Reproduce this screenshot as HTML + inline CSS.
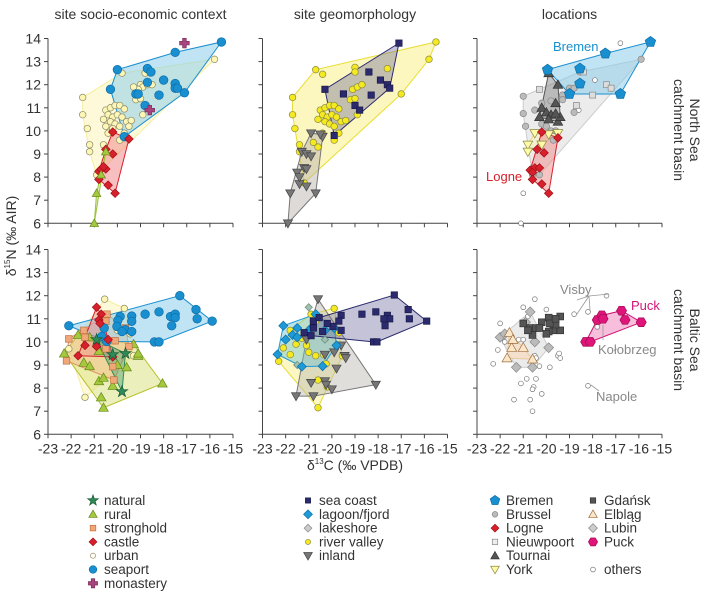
<!DOCTYPE html>
<html><head><meta charset="utf-8"><style>
body{margin:0;background:#fff;}
svg{display:block;font-family:"Liberation Sans",sans-serif;}
</style></head><body>
<svg id="c" width="710" height="599" viewBox="0 0 710 599"></svg>
<script>
// ---- data (δ13C, δ15N) ----
const xTicks=[-23,-22,-21,-20,-19,-18,-17,-16,-15];
const yTicks=[6,7,8,9,10,11,12,13,14];
const colTitles=["site socio-economic context","site geomorphology","locations"];
// panel 1 top
const t1Seaport=[[-15.5,13.85],[-17.5,13.4],[-20.0,12.65],[-18.7,12.7],[-18.55,12.55],[-20.3,11.8],[-18.7,12.1],[-18.0,12.2],[-19.2,11.6],[-19.1,11.6],[-18.2,11.55],[-17.5,12.05],[-17.5,11.85],[-17.4,11.85],[-17.1,11.65],[-18.8,11.1],[-19.7,9.75]];
const t1Monastery=[[-17.1,13.8],[-18.6,10.9]];
const t1Castle=[[-20.2,9.95],[-19.5,9.65],[-20.5,9.2],[-20.2,9.0],[-20.8,8.25],[-20.7,8.35],[-20.5,8.35],[-20.8,7.9],[-20.4,7.65],[-20.1,7.3],[-20.6,8.45]];
const t1Rural=[[-21.0,6.0],[-20.9,7.3],[-20.5,9.1],[-20.7,8.1]];
const t1Urban=[[-21.5,11.45],[-21.5,10.7],[-21.3,10.1],[-21.2,9.4],[-21.2,9.1],[-15.8,13.1],[-19.8,12.5],[-20.5,10.9],[-20.3,11.0],[-20.1,11.1],[-19.9,11.1],[-19.7,10.95],[-20.4,10.7],[-20.2,10.6],[-20.0,10.7],[-19.8,10.6],[-20.3,10.4],[-20.1,10.3],[-19.9,10.2],[-20.2,10.1],[-19.6,10.4],[-19.4,10.45],[-19.5,10.2],[-20.6,10.5],[-20.4,9.9],[-19.9,9.6],[-19.7,9.9],[-20.6,9.4],[-19.0,12.0],[-18.9,11.9],[-18.7,12.0],[-18.5,12.0],[-19.1,11.8],[-19.3,11.9],[-19.2,11.35],[-19.0,11.4],[-18.9,10.7],[-18.8,12.5],[-20.5,10.2],[-20.9,8.1]];
// panel 2 top
const t2SeaCoast=[[-17.1,13.8],[-20.3,11.8],[-18.4,12.55],[-17.9,12.2],[-17.6,12.0],[-17.5,11.85],[-18.3,11.55],[-19.5,11.6],[-19.0,11.1],[-18.8,10.9],[-19.9,9.8]];
const t2River=[[-15.5,13.85],[-15.8,13.1],[-17.0,11.6],[-17.6,12.7],[-20.7,12.65],[-20.4,12.45],[-21.7,11.45],[-21.7,10.7],[-21.6,10.1],[-21.4,9.4],[-21.4,9.1],[-21.2,7.75],[-19.0,12.75],[-19.0,12.55],[-20.5,10.9],[-20.3,11.0],[-20.1,11.1],[-19.9,11.1],[-19.7,10.95],[-20.4,10.7],[-20.2,10.6],[-20.0,10.7],[-19.8,10.6],[-20.3,10.4],[-20.1,10.3],[-19.9,10.2],[-19.6,10.4],[-19.4,10.45],[-20.6,10.5],[-20.4,9.9],[-19.9,9.6],[-19.7,9.9],[-19.1,11.8],[-18.9,11.9],[-18.7,12.0],[-19.2,11.35],[-19.0,11.4],[-18.9,10.7],[-20.8,9.5],[-20.6,9.3]];
const t2Inland=[[-21.9,6.0],[-21.8,7.3],[-20.7,7.3],[-21.1,7.6],[-21.4,7.7],[-21.5,8.2],[-21.2,8.4],[-21.1,8.35],[-21.3,9.1],[-21.1,9.0],[-20.9,8.9],[-20.9,9.9],[-20.4,9.75],[-20.5,9.85],[-21.4,8.0]];
// panel 3 top
const t3Bremen=[[-15.5,13.85],[-17.45,13.35],[-19.95,12.65],[-18.55,12.7],[-18.55,12.05],[-19.0,11.6],[-16.8,11.6]];
const t3Tournai=[[-19.9,12.5],[-19.5,12.0],[-20.2,11.0],[-19.6,11.2],[-20.3,10.6],[-19.5,10.4],[-19.4,10.6],[-20.0,10.8],[-19.8,10.7],[-19.6,10.75],[-19.9,10.5]];
const t3Logne=[[-20.2,9.95],[-19.5,9.7],[-20.4,9.2],[-20.1,9.05],[-20.7,8.3],[-20.5,8.4],[-20.3,8.4],[-20.6,8.2],[-20.6,7.9],[-20.2,7.7],[-19.9,7.3]];
const t3York=[[-20.8,9.4],[-20.8,9.1],[-20.5,9.9],[-20.2,9.4],[-19.9,9.85],[-19.5,9.9]];
const t3Brussel=[[-21.0,11.5],[-21.0,10.75],[-20.9,10.2],[-15.9,13.1],[-18.55,12.55],[-19.3,11.55],[-19.0,11.85],[-18.8,11.85],[-18.8,10.8],[-19.3,11.35],[-20.2,10.3],[-20.0,10.2],[-19.8,10.0],[-19.6,10.0],[-19.7,9.6],[-20.3,8.1],[-20.6,8.1],[-20.5,10.9],[-20.2,11.2],[-19.8,11.3]];
const t3Nieuwpoort=[[-20.3,11.8],[-18.4,12.55],[-17.4,12.0],[-17.2,11.85],[-18.0,11.55],[-18.7,11.1]];
const t3Others=[[-21.1,6.0],[-21.0,7.3],[-16.8,13.8],[-17.9,12.2],[-18.6,10.9]];
// bottom panel 1
const b1Seaport=[[-22.1,10.7],[-17.3,12.0],[-15.9,10.9],[-16.6,11.4],[-16.55,11.0],[-18.2,11.3],[-18.8,11.2],[-17.7,11.1],[-17.5,11.2],[-17.5,11.05],[-17.65,10.7],[-18.4,10.0],[-18.2,10.0],[-19.38,11.12],[-19.88,11.1],[-19.98,10.93],[-20.02,10.67],[-19.66,10.53],[-19.38,10.89],[-19.8,10.45],[-19.38,10.45],[-20.57,10.6],[-20.67,10.24],[-20.46,10.02]];
const b1Castle=[[-20.9,11.5],[-20.7,11.2],[-20.8,10.95],[-20.75,10.8],[-21.4,9.85],[-20.9,9.8],[-21.7,9.4],[-20.2,9.35],[-20.4,10.1]];
const b1Stronghold=[[-22.1,10.13],[-22.2,9.18],[-21.45,10.5],[-21.4,10.2],[-20.45,11.2],[-20.5,10.9],[-20.1,10.05],[-20.5,9.7],[-20.2,8.93],[-20.15,8.35],[-19.5,9.8],[-19.65,10.6]];
const b1Rural=[[-22.3,9.5],[-21.7,10.3],[-21.45,9.1],[-21.2,8.95],[-20.8,8.3],[-20.6,8.45],[-20.7,7.6],[-20.6,7.15],[-20.2,8.1],[-20.0,9.0],[-19.6,8.9],[-19.3,9.9],[-19.1,9.4],[-19.1,9.5],[-18.05,8.2],[-20.8,9.6],[-21.2,10.2]];
const b1Natural=[[-20.9,10.1],[-20.2,9.45],[-19.65,9.5],[-19.8,7.85]];
const b1Urban=[[-20.55,11.85],[-19.7,11.45],[-21.4,7.6],[-22.1,9.7],[-20.0,10.5],[-19.45,10.35],[-19.3,9.4]];
// bottom panel 2
const b2SeaCoast=[[-17.3,12.03],[-16.7,11.4],[-16.65,11.0],[-15.9,10.9],[-17.7,10.7],[-18.1,11.3],[-18.7,11.2],[-17.6,11.15],[-17.5,11.0],[-17.75,11.0],[-18.2,10.0],[-18.05,10.0],[-20.8,10.9],[-20.55,11.05],[-19.6,11.15],[-19.7,10.9],[-19.95,10.67],[-20.8,10.6],[-20.9,10.27],[-21.2,10.4],[-19.6,10.5],[-20.2,10.8],[-20.4,10.45]];
const b2Lagoon=[[-22.1,10.7],[-22.35,9.46],[-22.0,10.1],[-21.7,10.3],[-21.5,10.6],[-21.5,10.2],[-21.0,10.5],[-20.7,11.2],[-21.3,8.93],[-20.4,8.95],[-19.8,9.85],[-20.3,10.5],[-19.9,10.6]];
const b2Lakeshore=[[-21.0,11.5],[-21.5,9.0],[-20.3,10.1]];
const b2River=[[-22.3,9.16],[-22.1,9.74],[-21.8,9.45],[-21.55,9.9],[-19.9,11.45],[-20.7,10.9],[-20.9,11.2],[-21.8,10.5],[-21.3,10.15],[-21.1,9.85],[-21.0,9.55],[-20.7,9.4],[-20.35,9.45],[-20.25,9.05],[-20.6,8.35],[-20.2,8.05],[-20.6,7.15],[-19.7,10.4],[-19.55,9.4],[-20.8,10.9]];
const b2Inland=[[-20.6,11.85],[-21.1,10.1],[-19.6,9.85],[-19.45,9.4],[-19.4,9.3],[-19.9,9.55],[-20.3,9.45],[-19.8,8.85],[-20.9,8.23],[-20.3,8.3],[-20.25,8.15],[-20.0,7.95],[-18.1,8.15],[-21.55,7.65],[-20.8,7.65]];
// bottom panel 3
const b3Puck=[[-18.3,10.0],[-18.1,10.0],[-17.8,10.95],[-17.6,11.15],[-17.55,11.0],[-16.75,11.35],[-16.6,10.95],[-15.9,10.85]];
const b3Gdansk=[[-21.0,10.8],[-20.7,10.6],[-20.45,10.6],[-20.2,10.85],[-19.9,11.05],[-19.4,11.1],[-19.4,10.5],[-19.7,10.5],[-19.6,10.75],[-19.9,10.45],[-20.6,10.3],[-20.8,10.5],[-20.3,10.6],[-19.85,10.8],[-20.0,10.35],[-19.6,11.0]];
const b3Elblag=[[-21.6,10.4],[-21.5,9.75],[-21.0,9.75],[-21.7,9.3],[-20.6,9.25],[-21.45,10.1]];
const b3Lubin=[[-20.7,11.3],[-22.0,10.2],[-21.8,10.35],[-21.3,8.9],[-20.6,8.9],[-19.9,9.75],[-20.5,10.0],[-20.9,10.85]];
const b3Others=[[-22.3,9.05],[-22.1,9.65],[-22.0,10.8],[-21.0,11.5],[-20.5,11.85],[-20.8,11.1],[-20.0,11.4],[-21.8,10.0],[-21.2,10.1],[-21.0,10.1],[-20.5,9.4],[-20.45,9.3],[-20.3,8.95],[-19.85,8.9],[-19.5,9.4],[-19.4,9.3],[-19.45,9.5],[-21.1,8.2],[-20.85,8.4],[-20.45,8.4],[-20.55,8.05],[-20.6,7.95],[-20.2,7.75],[-21.4,7.5],[-20.7,7.5],[-20.6,7.0],[-18.8,11.2],[-18.2,11.3],[-17.4,12.0],[-18.2,8.1],[-17.8,10.65]];

// ---- layout ----
const S="http://www.w3.org/2000/svg";
const svg=document.getElementById('c');
const panelX0=[48,262.5,477],plotW=185;
const rowY14=[38.5,249.5],unit=23.1;
function el(tag,attrs,parent){const e=document.createElementNS(S,tag);for(const k in attrs)e.setAttribute(k,attrs[k]);(parent||svg).appendChild(e);return e;}
function sx(p,v){return panelX0[p]+(v+23)/8*plotW;}
function sy(r,v){return rowY14[r]+(14-v)*unit;}

function marker(g,type,x,y,s,fill,stroke){
  let e;
  if(type==='circle'){e=el('circle',{cx:x,cy:y,r:s,fill:fill,stroke:stroke,'stroke-width':0.7},g);}
  else if(type==='square'){e=el('rect',{x:x-s,y:y-s,width:2*s,height:2*s,fill:fill,stroke:stroke,'stroke-width':0.7},g);}
  else{
    let pts=[];
    if(type==='diamond')pts=[[0,-1.3],[1.3,0],[0,1.3],[-1.3,0]];
    else if(type==='tri')pts=[[0,-1.2],[1.2,0.9],[-1.2,0.9]];
    else if(type==='dtri')pts=[[0,1.2],[1.2,-0.9],[-1.2,-0.9]];
    else if(type==='pent'){for(let i=0;i<5;i++){const a=-Math.PI/2+i*2*Math.PI/5;pts.push([1.2*Math.cos(a),1.2*Math.sin(a)]);}}
    else if(type==='hex'){for(let i=0;i<6;i++){const a=i*Math.PI/3;pts.push([1.15*Math.cos(a),1.15*Math.sin(a)]);}}
    else if(type==='star'){for(let i=0;i<10;i++){const a=-Math.PI/2+i*Math.PI/5,r=i%2?0.55:1.4;pts.push([r*Math.cos(a),r*Math.sin(a)]);}}
    else if(type==='plus'){const a=0.45,b=1.2;pts=[[-a,-b],[a,-b],[a,-a],[b,-a],[b,a],[a,a],[a,b],[-a,b],[-a,a],[-b,a],[-b,-a],[-a,-a]];}
    e=el('polygon',{points:pts.map(p=>(x+p[0]*s)+','+(y+p[1]*s)).join(' '),fill:fill,stroke:stroke,'stroke-width':0.7},g);
  }
  return e;
}
function hull(pts){
  const P=pts.slice().sort((a,b)=>a[0]-b[0]||a[1]-b[1]);if(P.length<3)return P;
  const cr=(o,a,b)=>(a[0]-o[0])*(b[1]-o[1])-(a[1]-o[1])*(b[0]-o[0]);
  const lo=[],up=[];
  for(const p of P){while(lo.length>=2&&cr(lo[lo.length-2],lo[lo.length-1],p)<=0)lo.pop();lo.push(p);}
  for(let i=P.length-1;i>=0;i--){const p=P[i];while(up.length>=2&&cr(up[up.length-2],up[up.length-1],p)<=0)up.pop();up.push(p);}
  lo.pop();up.pop();return lo.concat(up);
}
function drawHull(p,r,data,fill,stroke,op,name){
  const h=hull(data);
  const e=el('polygon',{points:h.map(d=>sx(p,d[0])+','+sy(r,d[1])).join(' '),fill:fill,'fill-opacity':op,stroke:stroke,'stroke-width':1});
  
  
}
function drawPts(p,r,data,type,s,fill,stroke,name){
  const g=el('g',{});
  
  
  for(const d of data){const m=marker(g,type,sx(p,d[0]),sy(r,d[1]),s,fill,stroke);
    
    }
}

// ---- axes ----
for(let p=0;p<3;p++)for(let r=0;r<2;r++){
  const g=el('g',{stroke:'#444','stroke-width':1,fill:'none'});
  
  
  const x0=panelX0[p],yb=sy(r,6),yt=sy(r,14);
  el('line',{x1:x0,y1:yb,x2:x0,y2:yt},g);
  el('line',{x1:x0,y1:yb,x2:x0+plotW,y2:yb},g);
  for(const v of yTicks){el('line',{x1:x0-4,x2:x0,y1:sy(r,v),y2:sy(r,v)},g);}
  for(const v of xTicks){el('line',{x1:sx(p,v),x2:sx(p,v),y1:yb,y2:yb+4},g);}
  if(p===0)for(const v of yTicks){const t=el('text',{x:x0-7,y:sy(r,v)+5,'text-anchor':'end','font-size':14,fill:'#333'});t.textContent=v;
    }
  if(r===1)for(const v of xTicks){const t=el('text',{x:sx(p,v),y:yb+19,'text-anchor':'middle','font-size':14,fill:'#333'});t.textContent=v;
    }
}
colTitles.forEach((s,i)=>{const t=el('text',{x:panelX0[i]+plotW/2,y:19,'text-anchor':'middle','font-size':14,fill:'#333'});t.textContent=s;
  });

// ---- series ----
const BLUE='#1a8fd0',RED='#d7202b';
// top 1
drawHull(0,0,t1Urban,'#fdf7c0','#f5eea0',0.6,'urban-hull-top');
drawHull(0,0,t1Seaport,'#8ccde9',BLUE,0.55,'seaport-hull-top');
drawHull(0,0,t1Castle,'#f08a8a',RED,0.55,'castle-hull-top');
drawHull(0,0,t1Rural,'#cde08a','#9bc43a',0.6,'rural-hull-top');
drawPts(0,0,t1Urban,'circle',3.3,'#fdf6b4','#8a8a6a','urban-top');
drawPts(0,0,t1Seaport,'circle',4.3,BLUE,'#0d6fa8','seaport-top');
drawPts(0,0,t1Castle,'diamond',3.3,RED,'#a01018','castle-top');
drawPts(0,0,t1Rural,'tri',3.6,'#a4c83e','#6a8a1a','rural-top');
drawPts(0,0,t1Monastery,'plus',4,'#a8457e','#7a2a5a','monastery-top');
// top 2
drawHull(1,0,t2River,'#f8ee70','#e8dd30',0.45,'river-valley-hull-top');
drawHull(1,0,t2SeaCoast,'#6b6a9a','#2b2a6e',0.4,'sea-coast-hull-top');
drawHull(1,0,t2Inland,'#bbb6b0','#777',0.5,'inland-hull-top');
drawPts(1,0,t2River,'circle',3.3,'#f5ea20','#8a8a40','river-valley-top');
drawPts(1,0,t2SeaCoast,'square',3.2,'#2b2a6e','#1a1a4a','sea-coast-top');
drawPts(1,0,t2Inland,'dtri',3.8,'#777','#444','inland-top');
// top 3
drawHull(2,0,t3Brussel,'#ddd','#ccc',0.55,'brussel-hull-top');
drawHull(2,0,t3Bremen,'#8ccde9',BLUE,0.55,'bremen-hull-top');
drawHull(2,0,t3Tournai,'#888','#555',0.5,'tournai-hull-top');
drawHull(2,0,t3York,'#fbf2c0','#e8dd90',0.6,'york-hull-top');
drawHull(2,0,t3Logne,'#f08a8a',RED,0.5,'logne-hull-top');
drawPts(2,0,t3Others,'circle',2.4,'#fff','#777','others-top');
drawPts(2,0,t3Brussel,'circle',3.2,'#bbb','#888','brussel-top');
drawPts(2,0,t3Nieuwpoort,'square',3,'#ddd','#888','nieuwpoort-top');
drawPts(2,0,t3Tournai,'tri',4,'#555','#333','tournai-top');
drawPts(2,0,t3York,'dtri',4,'#fffaa8','#8a8a40','york-top');
drawPts(2,0,t3Logne,'diamond',3.3,RED,'#a01018','logne-top');
drawPts(2,0,t3Bremen,'pent',4.6,BLUE,'#0d6fa8','bremen-top');
// bottom 1
drawHull(0,1,b1Urban,'#fdf7c0','#f5eea0',0.6,'urban-hull-bottom');
drawHull(0,1,b1Rural,'#d8df7a','#b8c030',0.5,'rural-hull-bottom');
drawHull(0,1,b1Stronghold,'#f5b88a','#e09060',0.45,'stronghold-hull-bottom');
drawHull(0,1,b1Seaport,'#8ccde9',BLUE,0.55,'seaport-hull-bottom');
drawHull(0,1,b1Castle,'#f08a8a',RED,0.45,'castle-hull-bottom');
drawHull(0,1,b1Natural,'#4aa070','#2e8b57',0.45,'natural-hull-bottom');
drawPts(0,1,b1Urban,'circle',3.3,'#fdf6b4','#8a8a6a','urban-bottom');
drawPts(0,1,b1Rural,'tri',4,'#a4c83e','#6a8a1a','rural-bottom');
drawPts(0,1,b1Stronghold,'square',3.3,'#f0a878','#c07040','stronghold-bottom');
drawPts(0,1,b1Seaport,'circle',4.3,BLUE,'#0d6fa8','seaport-bottom');
drawPts(0,1,b1Castle,'diamond',3.3,RED,'#a01018','castle-bottom');
drawPts(0,1,b1Natural,'star',4.3,'#2e8b57','#1a5a35','natural-bottom');
// bottom 2
drawHull(1,1,b2River,'#f8ee70','#e8dd30',0.4,'river-valley-hull-bottom');
drawHull(1,1,b2Inland,'#bbb6b0','#777',0.45,'inland-hull-bottom');
drawHull(1,1,b2Lagoon,'#6cc0d0','#1e9ad6',0.45,'lagoon-hull-bottom');
drawHull(1,1,b2SeaCoast,'#6b6a9a','#2b2a6e',0.4,'sea-coast-hull-bottom');
drawPts(1,1,b2River,'circle',3.3,'#f5ea20','#8a8a40','river-valley-bottom');
drawPts(1,1,b2Inland,'dtri',3.8,'#777','#444','inland-bottom');
drawPts(1,1,b2Lakeshore,'diamond',2.8,'#9fc0b0','#6a8a7a','lakeshore-bottom');
drawPts(1,1,b2Lagoon,'diamond',3.5,'#1e9ad6','#0d6fa8','lagoon-bottom');
drawPts(1,1,b2SeaCoast,'square',3.2,'#2b2a6e','#1a1a4a','sea-coast-bottom');
// bottom 3
drawHull(2,1,b3Lubin,'#ddd','#ccc',0.6,'lubin-hull-bottom');
drawHull(2,1,b3Elblag,'#f8dcc0','#e8c8a0',0.7,'elblag-hull-bottom');
drawHull(2,1,b3Puck,'#f080b8','#d01070',0.5,'puck-hull-bottom');
drawPts(2,1,b3Others,'circle',2.4,'#fff','#777','others-bottom');
drawPts(2,1,b3Lubin,'diamond',3.8,'#bbb','#888','lubin-bottom');
drawPts(2,1,b3Elblag,'tri',4.2,'#fbe6c8','#a07040','elblag-bottom');
drawPts(2,1,b3Gdansk,'square',3.4,'#555','#333','gdansk-bottom');
drawPts(2,1,b3Puck,'hex',4.4,'#e0157a','#a00a55','puck-bottom');

// ---- annotations ----
function txt(x,y,s,size,fill,name,extra){const t=el('text',Object.assign({x:x,y:y,'font-size':size,fill:fill},extra||{}));t.textContent=s;
  return t;}
txt(553,51,'Bremen',13,BLUE,'bremen-label');
txt(486,181,'Logne',13,RED,'logne-label');
txt(631,310,'Puck',13,'#d0157a','puck-label');
txt(560,294,'Visby',13,'#888','visby-label');
txt(598,354,'Kołobrzeg',13,'#888','kolobrzeg-label');
txt(596,401,'Napole',13,'#888','napole-label');
const lines=el('g',{stroke:'#999','stroke-width':0.8,fill:'none'});

el('polyline',{points:'577,300 589,296 609,294'},lines);
el('line',{x1:589,y1:296,x2:577,y2:314},lines);
el('line',{x1:589,y1:296,x2:590,y2:310},lines);
el('line',{x1:603,y1:325,x2:603,y2:340},lines);
el('line',{x1:591,y1:385,x2:599,y2:391},lines);

const yl=txt(0,0,'',14,'#333','y-axis-title',{'text-anchor':'middle',transform:'translate(16,236) rotate(-90)'});
yl.innerHTML='δ<tspan font-size="8" dy="-6">15</tspan><tspan dy="6">N (‰ AIR)</tspan>';
const xl=txt(355,470,'',14,'#333','x-axis-title',{'text-anchor':'middle'});
xl.innerHTML='δ<tspan font-size="8" dy="-6">13</tspan><tspan dy="6">C (‰ VPDB)</tspan>';
txt(0,0,'North Sea',14,'#333','north-sea-label',{'text-anchor':'middle',transform:'translate(690,130) rotate(90)'});
txt(0,0,'catchment basin',14,'#333','north-sea-label-2',{'text-anchor':'middle',transform:'translate(674,130) rotate(90)'});
txt(0,0,'Baltic Sea',14,'#333','baltic-sea-label',{'text-anchor':'middle',transform:'translate(690,340) rotate(90)'});
txt(0,0,'catchment basin',14,'#333','baltic-sea-label-2',{'text-anchor':'middle',transform:'translate(674,340) rotate(90)'});

// ---- legend ----
const legends=[
 [93,[['star','#2e8b57','#1a5a35','natural',4],['tri','#a4c83e','#6a8a1a','rural',3.5],['square','#f0a878','#c07040','stronghold',2.8],['diamond','#d7202b','#a01018','castle',3],['circle','#fff','#a09060','urban',2.6],['circle','#1a8fd0','#0d6fa8','seaport',3.8],['plus','#a8457e','#7a2a5a','monastery',3.8]]],
 [308,[['square','#2b2a6e','#1a1a4a','sea coast',2.6],['diamond','#1e9ad6','#0d6fa8','lagoon/fjord',3.4],['diamond','#ccc','#888','lakeshore',3],['circle','#f5ea20','#8a8a40','river valley',2.6],['dtri','#777','#444','inland',3.6]]],
 [495,[['pent','#1a8fd0','#0d6fa8','Bremen',4.2],['circle','#bbb','#888','Brussel',2.8],['diamond','#d7202b','#a01018','Logne',3],['square','#eee','#888','Nieuwpoort',2.7],['tri','#555','#333','Tournai',3.5],['dtri','#fffaa8','#8a8a40','York',3.6]]],
 [593,[['square','#555','#333','Gdańsk',2.7],['tri','#fbe6c8','#a07040','Elbląg',3.6],['diamond','#ccc','#888','Lubin',3.4],['hex','#e0157a','#a00a55','Puck',4],null,['circle','#fff','#777','others',2.4]]]
];
legends.forEach(([lx,items])=>{
  items.forEach((it,i)=>{
    if(!it)return;
    const y=505+i*13.8;
    const g=el('g',{});
    
    
    marker(g,it[0],lx,y-4.5,it[4],it[1],it[2]);
    const t=el('text',{x:lx+11,y:y,'font-size':13.5,fill:'#333'},g);t.textContent=it[3];
  });
});
</script>
</body></html>
